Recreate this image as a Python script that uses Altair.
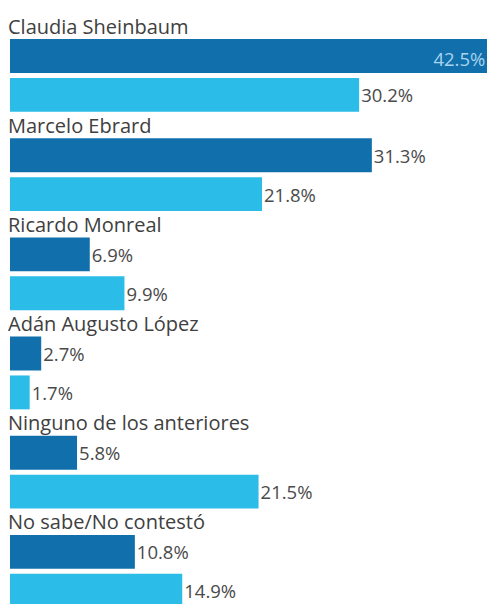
import altair as alt
import pandas as pd

categories = ["Claudia Sheinbaum", "Marcelo Ebrard", "Ricardo Monreal",
              "Adán Augusto López", "Ninguno de los anteriores", "No sabe/No contestó"]
series_names = ["Serie 1", "Serie 2"]
values_1 = [42.5, 31.3, 6.9, 2.7, 5.8, 10.8]
values_2 = [30.2, 21.8, 9.9, 1.7, 21.5, 14.9]

rows = []
for c, a, b in zip(categories, values_1, values_2):
    rows.append({"cat": c, "serie": series_names[0], "value": a})
    rows.append({"cat": c, "serie": series_names[1], "value": b})
df = pd.DataFrame(rows)
df_cat = pd.DataFrame({"cat": categories})

FONT = "Open Sans"
W = 477
H = 590

yscale = alt.Scale(domain=categories, range=[0, 595], paddingInner=0, paddingOuter=0)
xscale = alt.Scale(domain=[0, 41.26])
offscale = alt.Scale(domain=series_names, paddingInner=0.128, paddingOuter=0.34, align=0.95)
colscale = alt.Scale(domain=series_names, range=["#1170ab", "#2cbce8"])

base = alt.Chart(df)

bars = base.mark_bar(clip=True).encode(
    x=alt.X("value:Q", scale=xscale, axis=None),
    y=alt.Y("cat:N", scale=yscale, axis=None),
    yOffset=alt.YOffset("serie:N", scale=offscale),
    color=alt.Color("serie:N", scale=colscale, legend=None),
)

vals = base.transform_filter("datum.value < 40").transform_calculate(
    label="format(datum.value, '.1f') + '%'"
).mark_text(align="left", baseline="middle", dx=2, dy=1.5, fontSize=18.5,
            font=FONT, color="#4a4a4a").encode(
    x=alt.X("value:Q", scale=xscale, axis=None),
    y=alt.Y("cat:N", scale=yscale, axis=None),
    yOffset=alt.YOffset("serie:N", scale=offscale),
    text="label:N",
)

inside = base.transform_filter("datum.value >= 40").transform_calculate(
    label="format(datum.value, '.1f') + '%'"
).mark_text(align="right", baseline="middle", dx=-16, dy=4, fontSize=18.5,
            font=FONT, color="#a9d3ee", clip=True).encode(
    x=alt.X("value:Q", scale=xscale, axis=None),
    y=alt.Y("cat:N", scale=yscale, axis=None),
    yOffset=alt.YOffset("serie:N", scale=offscale),
    text="label:N",
)

names = alt.Chart(df_cat).mark_text(align="left", baseline="alphabetic", dy=19.5,
                                    fontSize=20, font=FONT, color="#404040").encode(
    x=alt.value(-2),
    y=alt.Y("cat:N", scale=yscale, axis=None, bandPosition=0),
    text="cat:N",
)

chart = alt.layer(bars, vals, inside, names).properties(
    width=W, height=H,
    padding={"left": 2, "top": 6, "right": 0, "bottom": 0},
    autosize=alt.AutoSizeParams(type="none"),
).configure(background="white").configure_view(stroke=None)

chart.save("out.html", embed_options={"renderer": "svg", "actions": False})
